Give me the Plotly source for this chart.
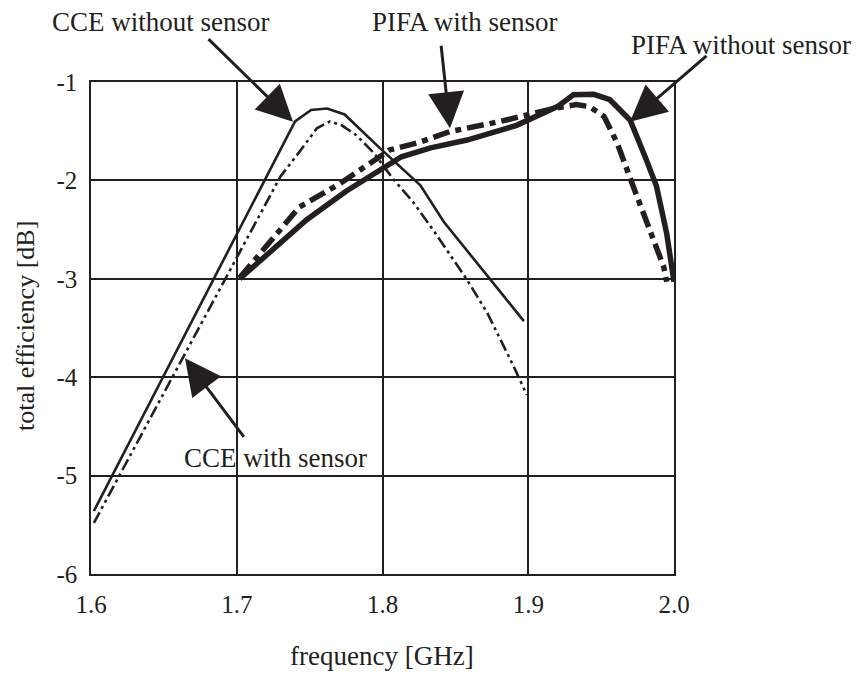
import plotly.graph_objects as go

# CCE without sensor (thin solid)
cce_wo_x = [1.602, 1.740, 1.751, 1.762, 1.774, 1.798, 1.826, 1.842, 1.897]
cce_wo_y = [-5.36, -1.40, -1.285, -1.27, -1.33, -1.67, -2.05, -2.42, -3.43]

# CCE with sensor (thin dash-dot-dot)
cce_w_x = [1.602, 1.730, 1.743, 1.755, 1.764, 1.772, 1.782, 1.794, 1.807, 1.821, 1.836, 1.858, 1.872, 1.890, 1.899]
cce_w_y = [-5.48, -1.96, -1.71, -1.47, -1.40, -1.44, -1.54, -1.72, -1.98, -2.22, -2.53, -3.01, -3.35, -3.89, -4.18]

# PIFA without sensor (thick solid)
pifa_wo_x = [1.702, 1.748, 1.775, 1.798, 1.813, 1.833, 1.858, 1.892, 1.920, 1.931, 1.945, 1.956, 1.970, 1.981, 1.988, 1.995, 2.000]
pifa_wo_y = [-3.00, -2.40, -2.11, -1.89, -1.76, -1.67, -1.59, -1.44, -1.25, -1.13, -1.125, -1.18, -1.39, -1.79, -2.06, -2.54, -3.03]

# PIFA with sensor (thick dash-dot)
pifa_w_x = [1.702, 1.743, 1.771, 1.805, 1.826, 1.846, 1.881, 1.917, 1.933, 1.942, 1.952, 1.961, 1.972, 1.981, 1.993, 1.995]
pifa_w_y = [-2.99, -2.27, -2.03, -1.69, -1.61, -1.505, -1.40, -1.27, -1.23, -1.25, -1.35, -1.62, -2.06, -2.40, -2.88, -3.03]

x_ticks = [1.6, 1.7, 1.8, 1.9, 2.0]
x_tick_labels = ["1.6", "1.7", "1.8", "1.9", "2.0"]
y_ticks = [-6, -5, -4, -3, -2, -1]
y_tick_labels = ["-6", "-5", "-4", "-3", "-2", "-1"]

INK = "#231f20"
FONT = "Liberation Serif, Times New Roman, DejaVu Serif, serif"

fig = go.Figure()
fig.add_trace(go.Scatter(x=cce_wo_x, y=cce_wo_y, mode="lines",
                         line=dict(color=INK, width=2.6), name="CCE without sensor"))
fig.add_trace(go.Scatter(x=cce_w_x, y=cce_w_y, mode="lines",
                         line=dict(color=INK, width=2.6, dash="12px,4px,3px,4px,3px,4px"),
                         name="CCE with sensor"))
fig.add_trace(go.Scatter(x=pifa_wo_x, y=pifa_wo_y, mode="lines",
                         line=dict(color=INK, width=5.5), name="PIFA without sensor"))
fig.add_trace(go.Scatter(x=pifa_w_x, y=pifa_w_y, mode="lines",
                         line=dict(color=INK, width=5.5, dash="17px,6px,6px,6px"),
                         name="PIFA with sensor"))

fig.update_xaxes(range=[1.6, 2.0], tickvals=x_ticks, ticktext=x_tick_labels,
                 showgrid=True, gridcolor=INK, gridwidth=1.5,
                 showline=True, linecolor=INK, linewidth=1.5, mirror=True,
                 zeroline=False, ticks="", ticklabelstandoff=7,
                 tickfont=dict(family=FONT, size=25, color=INK))
fig.update_yaxes(range=[-6, -1], tickvals=y_ticks, ticktext=y_tick_labels,
                 showgrid=True, gridcolor=INK, gridwidth=2,
                 showline=True, linecolor=INK, linewidth=1.5, mirror=True,
                 zeroline=False, ticks="", ticklabelstandoff=7,
                 tickfont=dict(family=FONT, size=25, color=INK))

def px2paper(px, py):
    return (px - 91) / 583.0, (574 - py) / 492.0

annotations = []
labels = [
    ("CCE without sensor", 161, 22),
    ("PIFA with sensor", 465, 22),
    ("PIFA without sensor", 741, 45),
    ("CCE with sensor", 275, 458),
]
for txt, px, py in labels:
    xp, yp = px2paper(px, py)
    annotations.append(dict(text=txt, x=xp, y=yp, xref="paper", yref="paper",
                            showarrow=False, xanchor="center", yanchor="middle",
                            font=dict(family=FONT, size=27, color=INK)))

# arrows: tip in data coords, tail as pixel offsets
arrows = [
    (1.7386, -1.403, -86, -84),
    (1.8463, -1.47, -9, -84),
    (1.9698, -1.403, 78, -67),
    (1.6645, -3.808, 60, 80),
]
for x, y, ax, ay in arrows:
    annotations.append(dict(text="", x=x, y=y, xref="x", yref="y", ax=ax, ay=ay,
                            showarrow=True, arrowhead=2, arrowsize=2.4, arrowwidth=3,
                            arrowcolor=INK, standoff=0, startstandoff=0))

xp, yp = px2paper(382, 656)
annotations.append(dict(text="frequency [GHz]", x=xp, y=yp, xref="paper", yref="paper",
                        showarrow=False, xanchor="center", yanchor="middle",
                        font=dict(family=FONT, size=27, color=INK)))
xp, yp = px2paper(25, 326)
annotations.append(dict(text="total efficiency [dB]", x=xp, y=yp, xref="paper", yref="paper",
                        showarrow=False, xanchor="center", yanchor="middle", textangle=-90,
                        font=dict(family=FONT, size=26, color=INK)))

# the page body adds an 8px offset; compensate in the margins
fig.update_layout(width=859, height=679, margin=dict(l=83, r=193, t=74, b=113),
                  paper_bgcolor="white", plot_bgcolor="white", showlegend=False,
                  annotations=annotations)

fig.write_html("out.html")
